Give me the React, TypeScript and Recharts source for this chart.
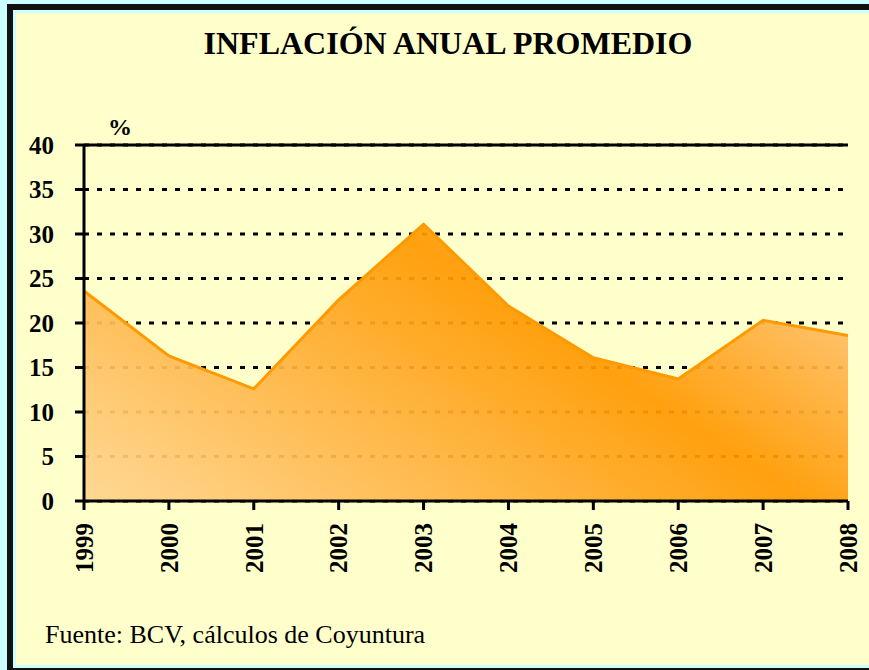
import { Area, AreaChart, CartesianGrid, ReferenceLine, XAxis, YAxis } from 'recharts'

const years = ['1999', '2000', '2001', '2002', '2003', '2004', '2005', '2006', '2007', '2008']
const inflation = [23.6, 16.3, 12.6, 22.6, 31.1, 21.9, 16.1, 13.7, 20.3, 18.6]
const yTicks = [0, 5, 10, 15, 20, 25, 30, 35, 40]

const title = 'INFLACIÓN ANUAL PROMEDIO'
const unit = '%'
const source = 'Fuente: BCV, cálculos de Coyuntura'

const data = years.map((year, i) => ({ year, value: inflation[i] }))

const serif = '"Liberation Serif", "Times New Roman", serif'

function YearTick({ x, y, payload }: any) {
  return (
    <text
      x={x}
      y={y}
      transform={`rotate(-90, ${x}, ${y})`}
      textAnchor="end"
      dy="0.35em"
      fontFamily={serif}
      fontWeight="bold"
      fontSize={25}
      fill="#000"
    >
      {payload.value}
    </text>
  )
}

export default function App() {
  return (
    <div style={{ position: 'absolute', left: 0, top: 0, width: 869, height: 670, background: '#ccffff', overflow: 'hidden' }}>
      <div style={{ position: 'absolute', left: 7, top: 4, width: 870, height: 670, background: '#111' }} />
      <div style={{ position: 'absolute', left: 13, top: 10, width: 870, height: 658, background: '#ccffff' }} />
      <div style={{ position: 'absolute', left: 16, top: 13, width: 870, height: 652, background: '#ffffcc' }} />

      <div style={{ position: 'absolute', left: 0, top: 0 }}>
        <AreaChart width={869} height={670} data={data} margin={{ top: 145, right: 21, bottom: 89, left: 24 }}>
          <defs>
            {/* diagonal two-tone fill: light bottom-left, deep orange band, light top-right */}
            <linearGradient id="inflFill" gradientUnits="userSpaceOnUse" x1="279" y1="631" x2="642" y2="87">
              <stop offset="0%" stopColor="#ffd592" />
              <stop offset="61%" stopColor="#ff9900" />
              <stop offset="100%" stopColor="#ffd096" />
            </linearGradient>
          </defs>
          <CartesianGrid vertical={false} stroke="#000" strokeWidth={3} strokeDasharray="5 8" />
          <Area
            type="linear"
            dataKey="value"
            stroke="#ff9900"
            strokeWidth={3}
            fill="url(#inflFill)"
            fillOpacity={0.93}
            isAnimationActive={false}
          />
          <ReferenceLine y={40} stroke="#000" strokeWidth={3} />
          <XAxis
            dataKey="year"
            height={80}
            interval={0}
            axisLine={{ stroke: '#000', strokeWidth: 3 }}
            tickLine={{ stroke: '#000', strokeWidth: 3 }}
            tickSize={9}
            tickMargin={13}
            tick={<YearTick />}
          />
          <YAxis
            yAxisId={0}
            width={60}
            domain={[0, 40]}
            ticks={yTicks}
            axisLine={{ stroke: '#000', strokeWidth: 3 }}
            tickLine={{ stroke: '#000', strokeWidth: 3 }}
            tickSize={9}
            tickMargin={21}
            tick={{ fill: '#000', fontFamily: serif, fontWeight: 'bold', fontSize: 25 }}
          />
          <YAxis
            yAxisId="right"
            orientation="right"
            width={0}
            domain={[0, 40]}
            tick={false}
            tickLine={false}
            axisLine={{ stroke: '#000', strokeWidth: 3 }}
          />
        </AreaChart>
      </div>

      <svg width={869} height={670} style={{ position: 'absolute', left: 0, top: 0, pointerEvents: 'none' }}>
        <text x={448} y={54} textAnchor="middle" fontFamily={serif} fontWeight="bold" fontSize={32} fill="#000">
          {title}
        </text>
        <text x={108} y={135} fontFamily={serif} fontWeight="bold" fontSize={24} fill="#000">
          {unit}
        </text>
        <text x={45} y={643} fontFamily={serif} fontSize={26} fill="#000">
          {source}
        </text>
      </svg>
    </div>
  )
}
